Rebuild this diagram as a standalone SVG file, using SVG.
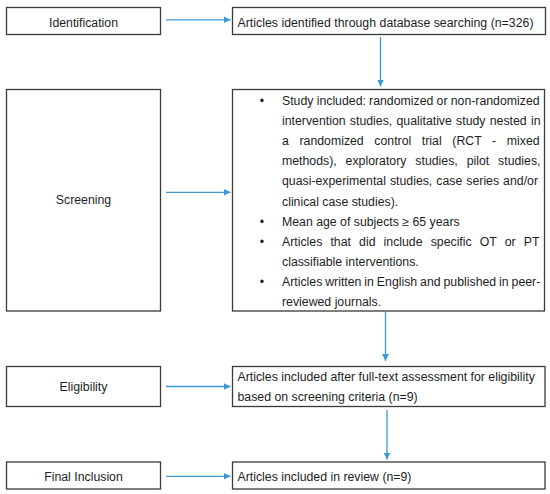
<svg xmlns="http://www.w3.org/2000/svg" width="550" height="494" viewBox="0 0 550 494">
<defs>
<style>
.box{fill:#ffffff;stroke:#3a3a3a;stroke-width:1.3}
.t{font-family:"Liberation Sans",Arial,sans-serif;font-size:12.3px;fill:#1e1e1e}
.c{text-anchor:middle}
.b{text-anchor:middle}
.conn{stroke:#3b9ad6;stroke-width:1.3;fill:none;marker-end:url(#ah)}
</style>
<marker id="ah" viewBox="0 0 10 10" refX="10" refY="5" markerUnits="userSpaceOnUse" markerWidth="7" markerHeight="7" orient="auto">
<path d="M0,0 L10,5 L0,10 z" fill="#3b9ad6"/>
</marker>
</defs>
<rect width="550" height="494" fill="#ffffff"/>

<g id="identification">
<rect class="box" x="6.5" y="7.5" width="154" height="27"/>
<text class="t c" x="83.5" y="26.5">Identification</text>
</g>
<g id="identified">
<rect class="box" x="232.5" y="7.5" width="313" height="27"/>
<text class="t" x="237.5" y="26.5" textLength="296" lengthAdjust="spacing">Articles identified through database searching (n=326)</text>
</g>

<g id="screening">
<rect class="box" x="6.5" y="89.5" width="154" height="221.5"/>
<text class="t c" x="83.5" y="204">Screening</text>
</g>
<g id="criteria">
<rect class="box" x="232.5" y="89.5" width="312" height="221.5"/>
<text class="t b" x="262" y="105">•</text>
<text class="t" x="282" y="105" word-spacing="-0.2">Study included: randomized or non-randomized</text>
<text class="t" x="282" y="125.1" word-spacing="0.85">intervention studies, qualitative study nested in</text>
<text class="t" x="282" y="145.2" word-spacing="7.2">a randomized control trial (RCT - mixed</text>
<text class="t" x="282" y="165.3" word-spacing="5.5">methods), exploratory studies, pilot studies,</text>
<text class="t" x="282" y="185.4" word-spacing="0.6">quasi-experimental studies, case series and/or</text>
<text class="t" x="282" y="205.5">clinical case studies).</text>
<text class="t b" x="262" y="225.6">•</text>
<text class="t" x="282" y="225.6">Mean age of subjects ≥ 65 years</text>
<text class="t b" x="262" y="245.7">•</text>
<text class="t" x="282" y="245.7" word-spacing="4.7">Articles that did include specific OT or PT</text>
<text class="t" x="282" y="265.8">classifiable interventions.</text>
<text class="t b" x="262" y="285.9">•</text>
<text class="t" x="282" y="285.9" word-spacing="-0.5">Articles written in English and published in peer-</text>
<text class="t" x="282" y="306">reviewed journals.</text>
</g>

<g id="eligibility">
<rect class="box" x="6.5" y="366.5" width="154" height="40"/>
<text class="t c" x="83.5" y="390.7">Eligibility</text>
</g>
<g id="assessed">
<rect class="box" x="232.5" y="366.5" width="312.5" height="40"/>
<text class="t" x="237.5" y="381.3">Articles included after full-text assessment for eligibility</text>
<text class="t" x="237.5" y="401.3">based on screening criteria (n=9)</text>
</g>

<g id="final-inclusion">
<rect class="box" x="6.5" y="462" width="154" height="27"/>
<text class="t c" x="83.5" y="480.5">Final Inclusion</text>
</g>
<g id="included">
<rect class="box" x="232.5" y="462" width="312.5" height="27"/>
<text class="t" x="237.5" y="481">Articles included in review (n=9)</text>
</g>

<g id="connectors">
<line class="conn" x1="166" y1="19.8" x2="230.5" y2="19.8"/>
<line class="conn" x1="380.5" y1="37" x2="380.5" y2="86.5"/>
<line class="conn" x1="166" y1="192.3" x2="230.5" y2="192.3"/>
<line class="conn" x1="385.5" y1="312" x2="385.5" y2="361"/>
<line class="conn" x1="166" y1="386.5" x2="230.5" y2="386.5"/>
<line class="conn" x1="387" y1="410" x2="387" y2="459.5"/>
<line class="conn" x1="166" y1="476.3" x2="230.5" y2="476.3"/>
</g>
</svg>
